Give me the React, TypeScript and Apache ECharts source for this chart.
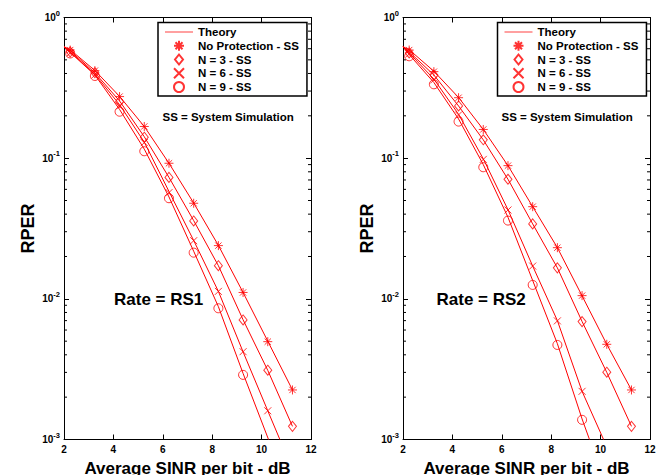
import React, { useEffect, useRef } from 'react';
import * as echarts from 'echarts';

// ---- Data ----
const simX = [2.25, 3.25, 4.25, 5.25, 6.25, 7.25, 8.25, 9.25, 10.25, 11.25];

// Rate = RS1 (left panel) – system simulation points
const rs1NoProt = [0.587, 0.419, 0.274, 0.168, 0.092, 0.0478, 0.0239, 0.0111, 0.00496, 0.00225];
const rs1N3 = [0.57, 0.405, 0.252, 0.141, 0.073, 0.0358, 0.0172, 0.00708, 0.00311, 0.00124];
const rs1N6 = [0.56, 0.39, 0.235, 0.129, 0.0569, 0.0259, 0.0113, 0.00421, 0.0016];
const rs1N9 = [0.555, 0.384, 0.214, 0.112, 0.0519, 0.0213, 0.00857, 0.00288];

// Rate = RS1 – theory curves
const rs1ThNoProtX = [2, 2.25, 3.25, 4.25, 5.25, 6.25, 7.25, 8.25, 9.25, 10.25, 11.25];
const rs1ThNoProt = [0.62, 0.59, 0.42, 0.275, 0.168, 0.092, 0.048, 0.024, 0.0111, 0.005, 0.00225];
const rs1ThN3X = [2, 2.25, 3.25, 4.25, 5.25, 6.25, 7.25, 8.25, 9.25, 10.25, 11.25];
const rs1ThN3 = [0.62, 0.58, 0.405, 0.255, 0.142, 0.073, 0.036, 0.0172, 0.0071, 0.0031, 0.00124];
const rs1ThN6X = [2, 2.25, 3.25, 4.25, 5.25, 6.25, 7.25, 8.25, 9.25, 10.25, 10.74];
const rs1ThN6 = [0.62, 0.57, 0.395, 0.24, 0.13, 0.058, 0.026, 0.0113, 0.0042, 0.0016, 0.001];
const rs1ThN9X = [2, 2.25, 3.25, 4.25, 5.25, 6.25, 7.25, 8.25, 9.25, 10.28];
const rs1ThN9 = [0.62, 0.565, 0.39, 0.222, 0.116, 0.053, 0.0218, 0.0088, 0.00295, 0.001];

// Rate = RS2 (right panel) – system simulation points
const rs2NoProt = [0.587, 0.412, 0.269, 0.16, 0.0885, 0.0452, 0.0231, 0.01054, 0.00475, 0.00225];
const rs2N3 = [0.56, 0.39, 0.235, 0.135, 0.0708, 0.0341, 0.0166, 0.00689, 0.00301, 0.00124];
const rs2N6 = [0.55, 0.36, 0.203, 0.098, 0.0428, 0.0171, 0.00697, 0.0022];
const rs2N9 = [0.53, 0.335, 0.182, 0.0862, 0.036, 0.01256, 0.0047, 0.00138];

// Rate = RS2 – theory curves
const rs2ThNoProtX = [2, 2.25, 3.25, 4.25, 5.25, 6.25, 7.25, 8.25, 9.25, 10.25, 11.25];
const rs2ThNoProt = [0.62, 0.59, 0.415, 0.27, 0.16, 0.0885, 0.0452, 0.0231, 0.0105, 0.00475, 0.00225];
const rs2ThN3X = [2, 2.25, 3.25, 4.25, 5.25, 6.25, 7.25, 8.25, 9.25, 10.25, 11.25];
const rs2ThN3 = [0.62, 0.57, 0.39, 0.235, 0.135, 0.0708, 0.0341, 0.0166, 0.0069, 0.003, 0.00124];
const rs2ThN6X = [2, 2.25, 3.25, 4.25, 5.25, 6.25, 7.25, 8.25, 9.25, 10.12];
const rs2ThN6 = [0.62, 0.56, 0.365, 0.205, 0.099, 0.043, 0.0171, 0.007, 0.0022, 0.001];
const rs2ThN9X = [2, 2.25, 3.25, 4.25, 5.25, 6.25, 7.25, 8.25, 9.25, 9.55];
const rs2ThN9 = [0.62, 0.545, 0.345, 0.19, 0.09, 0.038, 0.0135, 0.0048, 0.0014, 0.001];

const minorTicks = [
  0.002, 0.003, 0.004, 0.005, 0.006, 0.007, 0.008, 0.009,
  0.02, 0.03, 0.04, 0.05, 0.06, 0.07, 0.08, 0.09,
  0.2, 0.3, 0.4, 0.5, 0.6, 0.7, 0.8, 0.9,
];
const legendNames = ['Theory', 'No Protection - SS', 'N = 3 - SS', 'N = 6 - SS', 'N = 9 - SS'];
const panelTitles = ['Rate = RS1', 'Rate = RS2'];
const noteText = 'SS = System Simulation';

// ---- Helpers ----
const zip = (xs: number[], ys: number[]) => ys.map((y, i) => [xs[i], y]);
const RED = '#ff0000';
const FONT = '"Liberation Sans", Arial, Helvetica, sans-serif';
const STAR = 'path://M0,-10L0,10M-10,0L10,0M-7,-7L7,7M-7,7L7,-7';
const CROSS = 'path://M-10,-10L10,10M-10,10L10,-10';
const DIAMOND = 'path://M0,-10L8,0L0,10L-8,0Z';
const LINE_ICON = 'path://M0,0L28,0L28,1L0,1Z';

function buildPanel(idx: number, sim: number[][], theory: number[][][]) {
  const series: any[] = [];
  theory.forEach((d) => {
    series.push({
      type: 'line',
      name: 'Theory',
      xAxisIndex: idx * 2,
      yAxisIndex: idx * 2,
      data: d,
      symbol: 'none',
      lineStyle: { color: RED, width: 1 },
      itemStyle: { color: RED },
      silent: true,
    });
  });
  const symbols = [STAR, DIAMOND, CROSS, 'circle'];
  const sizes = [[9, 9], [8, 10], [7, 7], [9, 9]];
  sim.forEach((vals, k) => {
    series.push({
      type: 'scatter',
      name: legendNames[k + 1],
      xAxisIndex: idx * 2,
      yAxisIndex: idx * 2,
      data: zip(simX, vals),
      symbol: symbols[k],
      symbolSize: sizes[k],
      itemStyle: { color: 'rgba(255,255,255,0)', borderColor: RED, borderWidth: 1 },
      silent: true,
      z: 3,
    });
  });
  // minor log ticks on both vertical sides
  series.push({
    type: 'custom',
    name: 'minorTicks',
    xAxisIndex: idx * 2,
    yAxisIndex: idx * 2,
    data: minorTicks.map((v) => [2, v]),
    encode: { x: 0, y: 1 },
    clip: false,
    silent: true,
    renderItem: (_p: any, api: any) => {
      const v = api.value(1);
      const l = api.coord([2, v]);
      const r = api.coord([12, v]);
      return {
        type: 'group',
        children: [
          { type: 'line', shape: { x1: l[0], y1: l[1], x2: l[0] + 3, y2: l[1] }, style: { stroke: '#000', lineWidth: 1 } },
          { type: 'line', shape: { x1: r[0], y1: r[1], x2: r[0] - 3, y2: r[1] }, style: { stroke: '#000', lineWidth: 1 } },
        ],
      };
    },
  });
  return series;
}

export default function App() {
  const ref = useRef<HTMLDivElement>(null);
  useEffect(() => {
    document.body.style.margin = '0';
    if (!ref.current) return;
    const chart = echarts.init(ref.current, undefined, { renderer: 'svg' });

    const grids = [
      { left: 64, top: 17.5, width: 247, height: 422, outerBoundsMode: 'none', containLabel: false },
      { left: 403, top: 17.5, width: 247, height: 422, outerBoundsMode: 'none', containLabel: false },
    ];

    const xAxes: any[] = [];
    const yAxes: any[] = [];
    grids.forEach((_, i) => {
      const baseX = {
        type: 'value',
        gridIndex: i,
        min: 2,
        max: 12,
        interval: 2,
        splitLine: { show: false },
        axisLine: { onZero: false, lineStyle: { color: '#000', width: 1 } },
        axisTick: { inside: true, length: 5, lineStyle: { color: '#000' } },
      };
      xAxes.push({
        ...baseX,
        position: 'bottom',
        name: 'Average SINR per bit - dB',
        nameLocation: 'middle',
        nameGap: 12,
        nameTextStyle: { fontFamily: FONT, fontWeight: 'bold', fontSize: 17, lineHeight: 18, color: '#000' },
        axisLabel: { fontFamily: FONT, fontWeight: 'bold', fontSize: 10, color: '#000', margin: 5 },
      });
      xAxes.push({ ...baseX, position: 'top', axisLabel: { show: false } });
      const baseY = {
        type: 'log',
        logBase: 10,
        gridIndex: i,
        min: 0.001,
        max: 1,
        splitLine: { show: false },
        axisLine: { onZero: false, lineStyle: { color: '#000', width: 1 } },
        axisTick: { inside: true, length: 5, lineStyle: { color: '#000' } },
      };
      yAxes.push({
        ...baseY,
        position: 'left',
        name: 'RPER',
        nameLocation: 'middle',
        nameGap: 27,
        nameTextStyle: { fontFamily: FONT, fontWeight: 'bold', fontSize: 18, color: '#000' },
        axisLabel: {
          margin: 4,
          formatter: (v: number) => {
            const e = Math.round(Math.log10(v));
            return `{b|10}{s|${e}}`;
          },
          rich: {
            b: { fontFamily: FONT, fontWeight: 'bold', fontSize: 10, color: '#000', lineHeight: 12 },
            s: { fontFamily: FONT, fontWeight: 'bold', fontSize: 7.5, color: '#000', lineHeight: 12, padding: [0, 0, 9, 0] },
          },
        },
      });
      yAxes.push({ ...baseY, position: 'right', axisLabel: { show: false } });
    });

    const series = [
      ...buildPanel(0, [rs1NoProt, rs1N3, rs1N6, rs1N9], [
        zip(rs1ThNoProtX, rs1ThNoProt),
        zip(rs1ThN3X, rs1ThN3),
        zip(rs1ThN6X, rs1ThN6),
        zip(rs1ThN9X, rs1ThN9),
      ]),
      ...buildPanel(1, [rs2NoProt, rs2N3, rs2N6, rs2N9], [
        zip(rs2ThNoProtX, rs2ThNoProt),
        zip(rs2ThN3X, rs2ThN3),
        zip(rs2ThN6X, rs2ThN6),
        zip(rs2ThN9X, rs2ThN9),
      ]),
    ];

    const legendData = legendNames.map((n, i) =>
      i === 0 ? { name: n, icon: LINE_ICON, itemStyle: { color: '#ff4040', borderWidth: 0 } } : { name: n }
    );

    const legendBase = {
      data: legendData,
      orient: 'vertical',
      top: 22.5,
      borderColor: '#000',
      borderWidth: 1.5,
      padding: [3.5, 8, 3, 7],
      itemWidth: 28,
      itemHeight: 10,
      itemGap: 1.75,
      selectedMode: false,
      backgroundColor: '#fff',
      textStyle: { fontFamily: FONT, fontWeight: 'bold', fontSize: 11.5, lineHeight: 12, color: '#000' },
    };

    chart.setOption({
      animation: false,
      backgroundColor: '#fff',
      grid: grids,
      xAxis: xAxes,
      yAxis: yAxes,
      legend: [
        { ...legendBase, left: 158 },
        { ...legendBase, left: 497.5 },
      ],
      graphic: [
        { type: 'text', x: 162.5, y: 117, style: { text: noteText, font: `bold 11.5px ${FONT}`, fill: '#000', verticalAlign: 'middle' } },
        { type: 'text', x: 501.5, y: 117, style: { text: noteText, font: `bold 11.5px ${FONT}`, fill: '#000', verticalAlign: 'middle' } },
        { type: 'text', x: 114, y: 299, style: { text: panelTitles[0], font: `bold 17px ${FONT}`, fill: '#000', verticalAlign: 'middle' } },
        { type: 'text', x: 436.5, y: 299, style: { text: panelTitles[1], font: `bold 17px ${FONT}`, fill: '#000', verticalAlign: 'middle' } },
      ],
      series,
    });
    return () => chart.dispose();
  }, []);
  return <div ref={ref} style={{ width: 665, height: 475 }} />;
}
